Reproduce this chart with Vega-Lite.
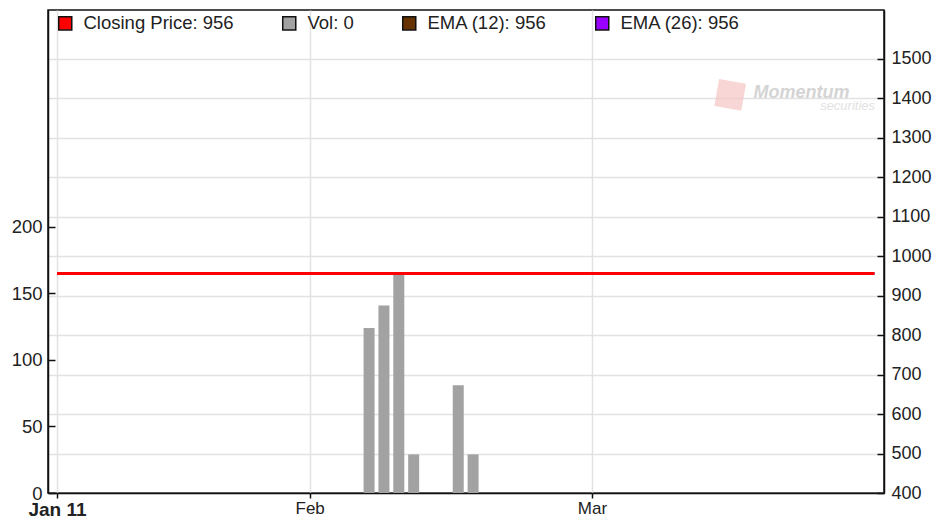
{
  "$schema": "https://vega.github.io/schema/vega-lite/v6.json",
  "width": 836,
  "height": 483,
  "autosize": {"type": "none"},
  "padding": {"left": 48, "top": 10, "right": 51, "bottom": 28},
  "background": "white",
  "config": {
    "view": {"stroke": "#111", "strokeWidth": 1.5},
    "font": "Liberation Sans",
    "axis": {"labelColor": "#222", "domainColor": "#111", "domainWidth": 1.5, "tickColor": "#111", "tickWidth": 1.5, "title": null, "gridColor": "#e2e2e2", "gridWidth": 1.5}
  },
  "data": {
    "values": [
      {"day": 0, "close": 956, "ema12": 956, "ema26": 956, "vol": 0},
      {"day": 1, "close": 956, "ema12": 956, "ema26": 956, "vol": 0},
      {"day": 2, "close": 956, "ema12": 956, "ema26": 956, "vol": 0},
      {"day": 3, "close": 956, "ema12": 956, "ema26": 956, "vol": 0},
      {"day": 4, "close": 956, "ema12": 956, "ema26": 956, "vol": 0},
      {"day": 5, "close": 956, "ema12": 956, "ema26": 956, "vol": 0},
      {"day": 6, "close": 956, "ema12": 956, "ema26": 956, "vol": 0},
      {"day": 7, "close": 956, "ema12": 956, "ema26": 956, "vol": 0},
      {"day": 8, "close": 956, "ema12": 956, "ema26": 956, "vol": 0},
      {"day": 9, "close": 956, "ema12": 956, "ema26": 956, "vol": 0},
      {"day": 10, "close": 956, "ema12": 956, "ema26": 956, "vol": 0},
      {"day": 11, "close": 956, "ema12": 956, "ema26": 956, "vol": 0},
      {"day": 12, "close": 956, "ema12": 956, "ema26": 956, "vol": 0},
      {"day": 13, "close": 956, "ema12": 956, "ema26": 956, "vol": 0},
      {"day": 14, "close": 956, "ema12": 956, "ema26": 956, "vol": 0},
      {"day": 15, "close": 956, "ema12": 956, "ema26": 956, "vol": 0},
      {"day": 16, "close": 956, "ema12": 956, "ema26": 956, "vol": 0},
      {"day": 17, "close": 956, "ema12": 956, "ema26": 956, "vol": 0},
      {"day": 18, "close": 956, "ema12": 956, "ema26": 956, "vol": 0},
      {"day": 19, "close": 956, "ema12": 956, "ema26": 956, "vol": 0},
      {"day": 20, "close": 956, "ema12": 956, "ema26": 956, "vol": 0},
      {"day": 21, "close": 956, "ema12": 956, "ema26": 956, "vol": 124},
      {"day": 22, "close": 956, "ema12": 956, "ema26": 956, "vol": 141},
      {"day": 23, "close": 956, "ema12": 956, "ema26": 956, "vol": 164},
      {"day": 24, "close": 956, "ema12": 956, "ema26": 956, "vol": 29},
      {"day": 25, "close": 956, "ema12": 956, "ema26": 956, "vol": 0},
      {"day": 26, "close": 956, "ema12": 956, "ema26": 956, "vol": 0},
      {"day": 27, "close": 956, "ema12": 956, "ema26": 956, "vol": 81},
      {"day": 28, "close": 956, "ema12": 956, "ema26": 956, "vol": 29},
      {"day": 29, "close": 956, "ema12": 956, "ema26": 956, "vol": 0},
      {"day": 30, "close": 956, "ema12": 956, "ema26": 956, "vol": 0},
      {"day": 31, "close": 956, "ema12": 956, "ema26": 956, "vol": 0},
      {"day": 32, "close": 956, "ema12": 956, "ema26": 956, "vol": 0},
      {"day": 33, "close": 956, "ema12": 956, "ema26": 956, "vol": 0},
      {"day": 34, "close": 956, "ema12": 956, "ema26": 956, "vol": 0},
      {"day": 35, "close": 956, "ema12": 956, "ema26": 956, "vol": 0},
      {"day": 36, "close": 956, "ema12": 956, "ema26": 956, "vol": 0},
      {"day": 37, "close": 956, "ema12": 956, "ema26": 956, "vol": 0},
      {"day": 38, "close": 956, "ema12": 956, "ema26": 956, "vol": 0},
      {"day": 39, "close": 956, "ema12": 956, "ema26": 956, "vol": 0},
      {"day": 40, "close": 956, "ema12": 956, "ema26": 956, "vol": 0},
      {"day": 41, "close": 956, "ema12": 956, "ema26": 956, "vol": 0},
      {"day": 42, "close": 956, "ema12": 956, "ema26": 956, "vol": 0},
      {"day": 43, "close": 956, "ema12": 956, "ema26": 956, "vol": 0},
      {"day": 44, "close": 956, "ema12": 956, "ema26": 956, "vol": 0},
      {"day": 45, "close": 956, "ema12": 956, "ema26": 956, "vol": 0},
      {"day": 46, "close": 956, "ema12": 956, "ema26": 956, "vol": 0},
      {"day": 47, "close": 956, "ema12": 956, "ema26": 956, "vol": 0},
      {"day": 48, "close": 956, "ema12": 956, "ema26": 956, "vol": 0},
      {"day": 49, "close": 956, "ema12": 956, "ema26": 956, "vol": 0},
      {"day": 50, "close": 956, "ema12": 956, "ema26": 956, "vol": 0},
      {"day": 51, "close": 956, "ema12": 956, "ema26": 956, "vol": 0},
      {"day": 52, "close": 956, "ema12": 956, "ema26": 956, "vol": 0},
      {"day": 53, "close": 956, "ema12": 956, "ema26": 956, "vol": 0},
      {"day": 54, "close": 956, "ema12": 956, "ema26": 956, "vol": 0},
      {"day": 55, "close": 956, "ema12": 956, "ema26": 956, "vol": 0}
    ]
  },
  "layer": [
    {
      "mark": {"type": "bar", "width": 11, "stroke": "#111", "strokeWidth": 0},
      "encoding": {
        "x": {
          "field": "day", "type": "quantitative",
          "scale": {"domain": [-0.606, 55.65], "nice": false, "zero": false, "padding": 0},
          "axis": {
            "values": [0, 17, 36],
            "labelExpr": "datum.value == 0 ? 'Jan 11' : datum.value == 17 ? 'Feb' : 'Mar'",
            "labelFontWeight": {"condition": {"test": "datum.value == 0", "value": "bold"}, "value": "normal"},
            "labelFontSize": {"condition": {"test": "datum.value == 0", "value": 19}, "value": 17},
            "labelPadding": 2,
            "tickSize": 5,
            "grid": true
          }
        },
        "y": {
          "field": "vol", "type": "quantitative",
          "scale": {"domain": [0, 363], "nice": false},
          "axis": {"orient": "left", "values": [0, 50, 100, 150, 200], "grid": false, "labelFontSize": 18.5, "tickSize": -7, "labelPadding": 13}
        },
        "color": {
          "datum": "vol",
          "scale": {"domain": ["close", "vol", "ema12", "ema26"], "range": ["#ff0000", "#a2a2a2", "#663300", "#9900ff"]},
          "legend": {
            "orient": "none", "legendX": 8, "legendY": 4, "direction": "horizontal", "title": null,
            "symbolType": "square", "symbolSize": 170, "symbolStrokeWidth": 1.5,
            "labelFontSize": 18.5, "labelColor": "#222", "labelOffset": 9, "labelLimit": 400, "columnPadding": 45,
            "labelExpr": "datum.value == 'close' ? 'Closing Price: 956' : datum.value == 'vol' ? 'Vol: 0' : datum.value == 'ema12' ? 'EMA (12): 956' : 'EMA (26): 956'",
            "encoding": {"symbols": {"stroke": {"value": "#111"}, "strokeWidth": {"value": 1.5}}}
          }
        }
      }
    },
    {
      "layer": [
        {
          "mark": {"type": "line", "strokeWidth": 3, "color": "#9900ff"},
          "encoding": {
            "x": {"field": "day", "type": "quantitative"},
            "y": {"field": "ema26", "type": "quantitative", "scale": {"domain": [400, 1623], "nice": false, "zero": false},
              "axis": {"orient": "right", "format": "d", "values": [400, 500, 600, 700, 800, 900, 1000, 1100, 1200, 1300, 1400, 1500], "grid": true, "labelFontSize": 18, "tickSize": -7, "labelPadding": 14}}
          }
        },
        {
          "mark": {"type": "line", "strokeWidth": 3, "color": "#663300"},
          "encoding": {
            "x": {"field": "day", "type": "quantitative"},
            "y": {"field": "ema12", "type": "quantitative"}
          }
        },
        {
          "mark": {"type": "line", "strokeWidth": 3, "color": "#ff0000"},
          "encoding": {
            "x": {"field": "day", "type": "quantitative"},
            "y": {"field": "close", "type": "quantitative"}
          }
        },
        {
          "data": {"values": [{"logo": "Momentum"}]},
          "mark": {"type": "point", "shape": "square", "filled": true, "size": 750, "color": "#f6c4c4", "angle": 10},
          "encoding": {"x": {"datum": 45.3}, "y": {"datum": 1408}}
        },
        {
          "data": {"values": [{"logo": "Momentum"}]},
          "mark": {"type": "text", "text": "Momentum", "font": "Liberation Sans", "fontStyle": "italic", "fontWeight": "bold", "fontSize": 18, "color": "#d4d4d4", "align": "center", "baseline": "middle"},
          "encoding": {"x": {"datum": 50.1}, "y": {"datum": 1413}}
        },
        {
          "data": {"values": [{"logo": "securities"}]},
          "mark": {"type": "text", "text": "securities", "font": "Liberation Sans", "fontStyle": "italic", "fontSize": 13, "color": "#e2e2e2", "align": "center", "baseline": "middle"},
          "encoding": {"x": {"datum": 53.2}, "y": {"datum": 1381}}
        }
      ]
    }
  ],
  "resolve": {"scale": {"y": "independent"}}
}
